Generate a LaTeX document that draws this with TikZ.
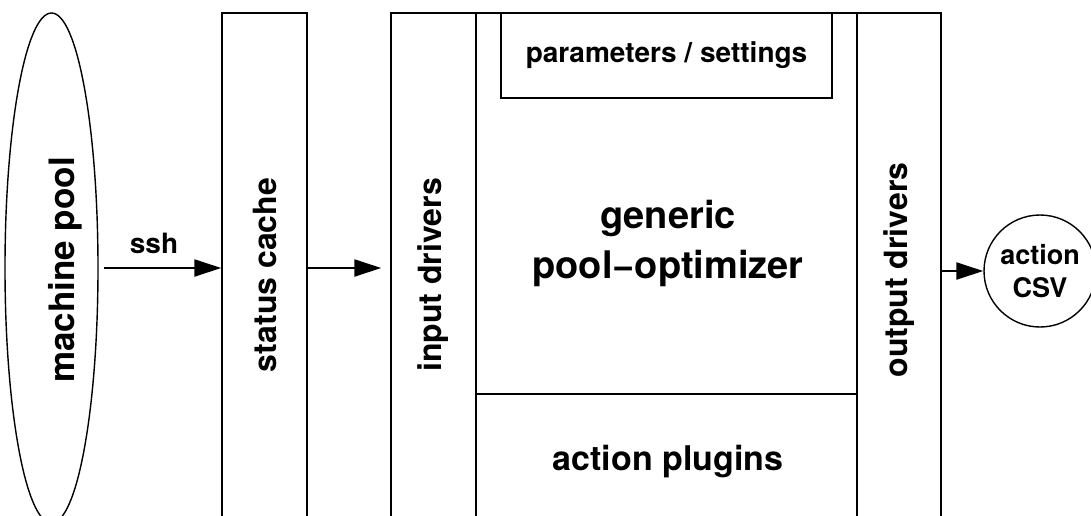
\documentclass[tikz,border=0pt]{standalone}
\usepackage{fontspec}
\setmainfont{TeX Gyre Heros}
\usetikzlibrary{shapes.geometric,arrows.meta}
\begin{document}
\begin{tikzpicture}[x=1pt,y=-1pt,
  box/.style={draw,line width=1.4pt,inner sep=0pt},
  vlbl/.style={font=\bfseries\fontsize{32}{38}\selectfont, rotate=90, inner sep=0pt},
  conn/.style={line width=2.2pt,-{Triangle[length=27pt,width=17pt]}}]
\useasboundingbox (0,0) rectangle (1091,515);
\clip (0,0) rectangle (1091,515);
% machine pool
\node[ellipse, box, minimum width=93pt, minimum height=510pt] (mp) at (51.5,268) {};
\node[vlbl, font=\bfseries\fontsize{35}{40}\selectfont] (mpt) at (65,270) {machine pool};
% status cache
\node[box, minimum width=85pt, minimum height=524pt] (sc) at (264.5,275) {};
\node[vlbl] (sct) at (264.5,275) {status cache};
% input drivers
\node[box, minimum width=85pt, minimum height=524pt] (id) at (433.5,275) {};
\node[vlbl] (idt) at (433.5,275) {input drivers};
% main optimizer
\node[box, minimum width=381pt, minimum height=381pt] (po) at (666.5,203.5) {};
\node[box, minimum width=381pt, minimum height=142pt] (ap) at (666.5,465) {};
\node[box, minimum width=331pt, minimum height=85pt, font=\bfseries\fontsize{28}{34}\selectfont] (ps) at (666.5,55.5) {parameters / settings};
\node[font=\bfseries\fontsize{38}{50}\selectfont, align=center] (pot) at (668,243) {generic\\pool\textminus optimizer};
\node[font=\bfseries\fontsize{34}{40}\selectfont] (apt) at (668,462) {action plugins};
% output drivers
\node[box, minimum width=84pt, minimum height=524pt] (od) at (899,275) {};
\node[vlbl] (odt) at (899,270) {output drivers};
% action csv
\node[circle, box, minimum size=112pt, align=center, font=\bfseries\fontsize{27}{33}\selectfont] (csv) at (1040,271) {action\\CSV};
% connectors
\draw[conn, shorten <=5pt] (mp.east |- 0,268) coordinate (a1) -- (sc.west |- a1);
\node[font=\bfseries\fontsize{28}{32}\selectfont] (ssh) at (154,243) {ssh};
\draw[conn, shorten >=9pt] (sc.east |- 0,268) -- (id.west |- 0,268);
\draw[conn] (od.east |- csv) -- (csv.west);
\end{tikzpicture}
\end{document}
